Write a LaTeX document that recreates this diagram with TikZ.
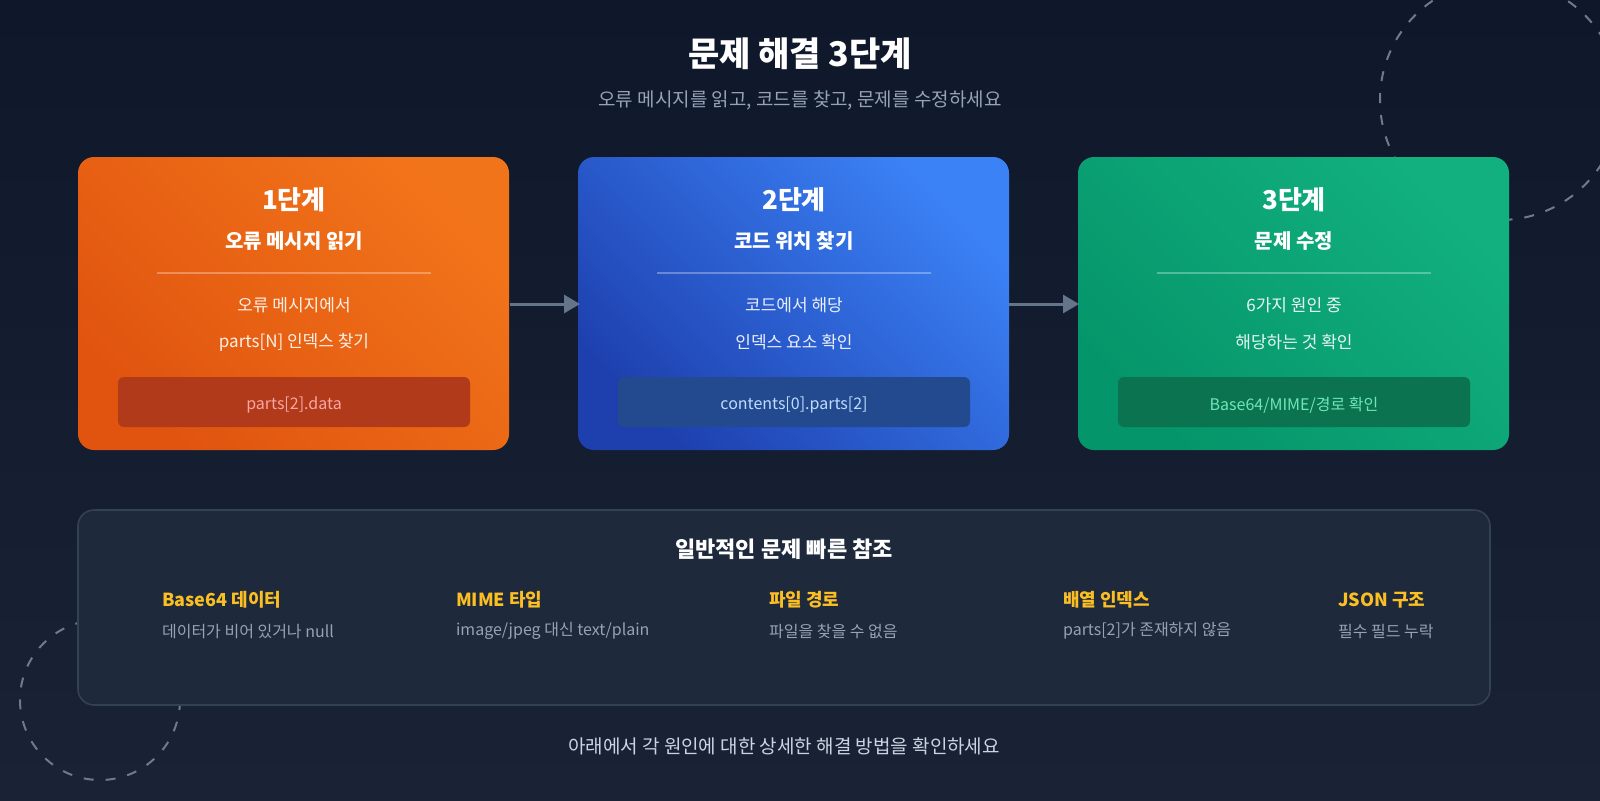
\documentclass[tikz,border=0pt]{standalone}
\usepackage{fontspec}
\setmainfont{Noto Sans CJK KR}
\usetikzlibrary{arrows.meta}
\definecolor{bgA}{HTML}{0F172A}\definecolor{bgB}{HTML}{1A2236}
\definecolor{panel}{HTML}{1E293B}\definecolor{panelE}{HTML}{334155}
\definecolor{oA}{HTML}{E0540F}\definecolor{oB}{HTML}{F2741A}
\definecolor{bA}{HTML}{1E40AF}\definecolor{bB}{HTML}{3B82F6}
\definecolor{gA}{HTML}{05956A}\definecolor{gB}{HTML}{12B07F}
\definecolor{yel}{HTML}{FBBF24}\definecolor{gry}{HTML}{94A3B8}\definecolor{lgry}{HTML}{CBD5E1}
\definecolor{arr}{HTML}{64748B}
\definecolor{ct1}{HTML}{FCA5A5}\definecolor{ct2}{HTML}{BFDBFE}\definecolor{ct3}{HTML}{6EE7B7}
\tikzset{
 fs/.style={font=\fontsize{#1}{#1}\selectfont},
 card/.style={rounded corners=8pt},
 code/.style={rounded corners=3pt},
 hd/.style={yel,anchor=west,font=\bfseries\fontsize{9}{9}\selectfont},
 ds/.style={gry,anchor=west,fs=8},
 arrw/.style={draw=arr,line width=1.5pt,-{Triangle[length=8pt,width=9pt]}}
}
\begin{document}
\begin{tikzpicture}[x=0.5pt,y=-0.5pt]
\useasboundingbox (0,0) rectangle (1600,800);
\shade[top color=bgA,bottom color=bgB] (0,0) rectangle (1600,800);
\draw[panelE!70,line width=1pt,dash pattern=on 5pt off 6pt] (1500,100) circle (120);
\draw[panelE!70,line width=1pt,dash pattern=on 5pt off 6pt] (100,700) circle (80);
\node[white,font=\bfseries\fontsize{17}{17}\selectfont] (t) at (800,54) {문제 해결 3단계};
\node[gry,fs=9.5] (st) at (800,100) {오류 메시지를 읽고, 코드를 찾고, 문제를 수정하세요};
% cards
\foreach \n/\x/\ca/\cb/\cc in {1/78/oA/oB/B03A1A,2/578/bA/bB/234A8F,3/1078/gA/gB/0B7350}{
 \definecolor{cc}{HTML}{\cc}
 \shade[card,left color=\ca,right color=\cb,shading angle=135] (\x,157) rectangle ++(431,293);
 \draw[white,opacity=0.3,line width=0.6pt] (\x+79,273) -- ++(274,0);
 \fill[code,cc] (\x+40,377) rectangle ++(352,50);
}
\node[white,font=\bfseries\fontsize{13}{13}\selectfont] (s1) at (294,200) {1단계};
\node[white,font=\bfseries\fontsize{10}{10}\selectfont] (s1b) at (294,241) {오류 메시지 읽기};
\node[white,opacity=0.9,fs=8.5] (s1c) at (294,305) {오류 메시지에서};
\node[white,opacity=0.9,fs=8.5] (s1d) at (294,342) {parts[N] 인덱스 찾기};
\node[ct1,fs=8] (c1) at (294,405) {parts[2].data};
\node[white,font=\bfseries\fontsize{13}{13}\selectfont] (s2) at (794,200) {2단계};
\node[white,font=\bfseries\fontsize{10}{10}\selectfont] (s2b) at (794,241) {코드 위치 찾기};
\node[white,opacity=0.9,fs=8.5] (s2c) at (794,305) {코드에서 해당};
\node[white,opacity=0.9,fs=8.5] (s2d) at (794,342) {인덱스 요소 확인};
\node[ct2,fs=8] (c2) at (794,405) {contents[0].parts[2]};
\node[white,font=\bfseries\fontsize{13}{13}\selectfont] (s3) at (1294,200) {3단계};
\node[white,font=\bfseries\fontsize{10}{10}\selectfont] (s3b) at (1294,241) {문제 수정};
\node[white,opacity=0.9,fs=8.5] (s3c) at (1294,305) {6가지 원인 중};
\node[white,opacity=0.9,fs=8.5] (s3d) at (1294,342) {해당하는 것 확인};
\node[ct3,fs=8] (c3) at (1294,405) {Base64/MIME/경로 확인};
\coordinate (a1) at (510,304);\coordinate (a2) at (580,304);
\coordinate (b1) at (1009,304);\coordinate (b2) at (1079,304);
\draw[arrw] (a1) -- (a2);
\draw[arrw] (b1) -- (b2);
% reference panel
\draw[card,fill=panel,draw=panelE,line width=0.8pt] (78,510) rectangle (1490,705);
\node[white,font=\bfseries\fontsize{11}{11}\selectfont] (rt) at (784,549) {일반적인 문제 빠른 참조};
\node[hd] (h1) at (155,600) {Base64 데이터};
\node[ds] (d1) at (155,631) {데이터가 비어 있거나 null};
\node[hd] (h2) at (449,600) {MIME 타입};
\node[ds] (d2) at (449,631) {image/jpeg 대신 text/plain};
\node[hd] (h3) at (762,600) {파일 경로};
\node[ds] (d3) at (762,631) {파일을 찾을 수 없음};
\node[hd] (h4) at (1056,600) {배열 인덱스};
\node[ds] (d4) at (1056,631) {parts[2]가 존재하지 않음};
\node[hd] (h5) at (1331,600) {JSON 구조};
\node[ds] (d5) at (1331,631) {필수 필드 누락};
\node[lgry,fs=9.5] (ft) at (784,746) {아래에서 각 원인에 대한 상세한 해결 방법을 확인하세요};
\end{tikzpicture}
\end{document}
